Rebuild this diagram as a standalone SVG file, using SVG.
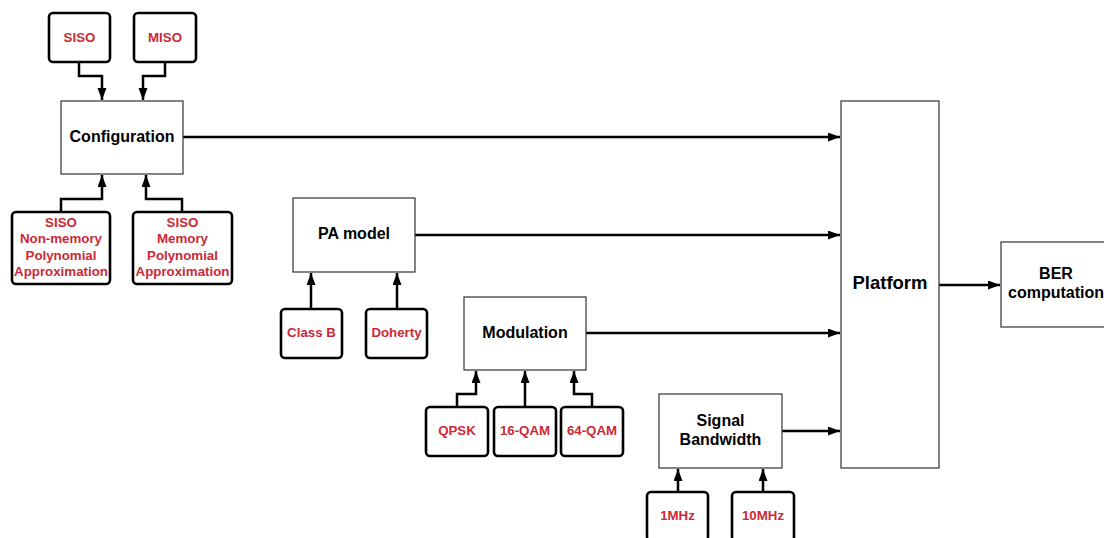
<svg xmlns="http://www.w3.org/2000/svg" width="1104" height="538" viewBox="0 0 1104 538">
  <style>
    .main { fill: #ffffff; stroke: #333333; stroke-width: 1.2; }
    .opt { fill: #ffffff; stroke: #000000; stroke-width: 2.6; }
    .lbl { font-family: "Liberation Sans", Arial, sans-serif; font-weight: bold; font-size: 16px; fill: #000000; text-anchor: middle; }
    .big { font-size: 18.5px; }
    .red { font-family: "Liberation Sans", Arial, sans-serif; font-weight: bold; font-size: 13.3px; fill: #cc2936; text-anchor: middle; }
    .wire { fill: none; stroke: #000000; stroke-width: 2.5; marker-end: url(#head); }
  </style>
  <defs>
    <marker id="head" markerUnits="userSpaceOnUse" markerWidth="13" markerHeight="10" refX="12" refY="4.5" orient="auto">
      <path d="M0,0 L12,4.5 L0,9 z" fill="#000000"/>
    </marker>
  </defs>
  <rect width="1104" height="538" fill="#ffffff"/>

  <!-- connectors -->
  <g id="connectors">
    <path class="wire" d="M79,62 V76 H102 V100"/>
    <path class="wire" d="M165,62 V76 H143 V100"/>
    <path class="wire" d="M61,212 V199 H102 V175"/>
    <path class="wire" d="M182,212 V199 H146 V175"/>
    <path class="wire" d="M183,137 H840"/>
    <path class="wire" d="M311,309 V273"/>
    <path class="wire" d="M397,309 V273"/>
    <path class="wire" d="M415,235 H840"/>
    <path class="wire" d="M457,406 V394 H476 V371"/>
    <path class="wire" d="M525,406 V371"/>
    <path class="wire" d="M592,406 V394 H574 V371"/>
    <path class="wire" d="M586,333 H840"/>
    <path class="wire" d="M678,492 V469"/>
    <path class="wire" d="M763,492 V469"/>
    <path class="wire" d="M782,431 H840"/>
    <path class="wire" d="M939,285 H1000"/>
  </g>

  <!-- configuration options -->
  <g id="siso">
    <rect class="opt" x="49" y="13" width="61" height="49" rx="4"/>
    <text class="red" x="79.5" y="41.5">SISO</text>
  </g>
  <g id="miso">
    <rect class="opt" x="134" y="13" width="62" height="49" rx="4"/>
    <text class="red" x="165" y="41.5">MISO</text>
  </g>
  <g id="configuration">
    <rect class="main" x="61" y="101" width="122" height="73"/>
    <text class="lbl" x="122" y="142">Configuration</text>
  </g>
  <g id="siso-nonmemory">
    <rect class="opt" x="12" y="212" width="98" height="72" rx="4"/>
    <text class="red" x="61" y="226.5">SISO</text>
    <text class="red" x="61" y="243">Non-memory</text>
    <text class="red" x="61" y="259.5">Polynomial</text>
    <text class="red" x="61" y="276">Approximation</text>
  </g>
  <g id="siso-memory">
    <rect class="opt" x="133" y="212" width="99" height="72" rx="4"/>
    <text class="red" x="182.5" y="226.5">SISO</text>
    <text class="red" x="182.5" y="243">Memory</text>
    <text class="red" x="182.5" y="259.5">Polynomial</text>
    <text class="red" x="182.5" y="276">Approximation</text>
  </g>

  <!-- PA model -->
  <g id="pa-model">
    <rect class="main" x="293" y="198" width="122" height="74"/>
    <text class="lbl" x="354" y="239">PA model</text>
  </g>
  <g id="class-b">
    <rect class="opt" x="281" y="309" width="61" height="49" rx="4"/>
    <text class="red" x="311.5" y="337">Class B</text>
  </g>
  <g id="doherty">
    <rect class="opt" x="366" y="309" width="61" height="49" rx="4"/>
    <text class="red" x="396.5" y="337">Doherty</text>
  </g>

  <!-- modulation -->
  <g id="modulation">
    <rect class="main" x="464" y="297" width="122" height="73"/>
    <text class="lbl" x="525" y="337.5">Modulation</text>
  </g>
  <g id="qpsk">
    <rect class="opt" x="426" y="407" width="62" height="49" rx="4"/>
    <text class="red" x="457" y="435">QPSK</text>
  </g>
  <g id="qam16">
    <rect class="opt" x="494" y="407" width="62" height="49" rx="4"/>
    <text class="red" x="525" y="435">16-QAM</text>
  </g>
  <g id="qam64">
    <rect class="opt" x="561" y="407" width="62" height="49" rx="4"/>
    <text class="red" x="592" y="435">64-QAM</text>
  </g>

  <!-- signal bandwidth -->
  <g id="signal-bandwidth">
    <rect class="main" x="659" y="394" width="123" height="74"/>
    <text class="lbl" x="720.5" y="425.5">Signal</text>
    <text class="lbl" x="720.5" y="444.5">Bandwidth</text>
  </g>
  <g id="bw-1mhz">
    <rect class="opt" x="647" y="492" width="61" height="49" rx="4"/>
    <text class="red" x="677.5" y="520">1MHz</text>
  </g>
  <g id="bw-10mhz">
    <rect class="opt" x="732" y="492" width="62" height="49" rx="4"/>
    <text class="red" x="763" y="520">10MHz</text>
  </g>

  <!-- platform and output -->
  <g id="platform">
    <rect class="main" x="841" y="101" width="98" height="367"/>
    <text class="lbl big" x="890" y="289">Platform</text>
  </g>
  <g id="ber">
    <rect class="main" x="1001" y="242" width="108" height="85"/>
    <text class="lbl" x="1056" y="278.5">BER</text>
    <text class="lbl" x="1056" y="297.5">computation</text>
  </g>
</svg>
